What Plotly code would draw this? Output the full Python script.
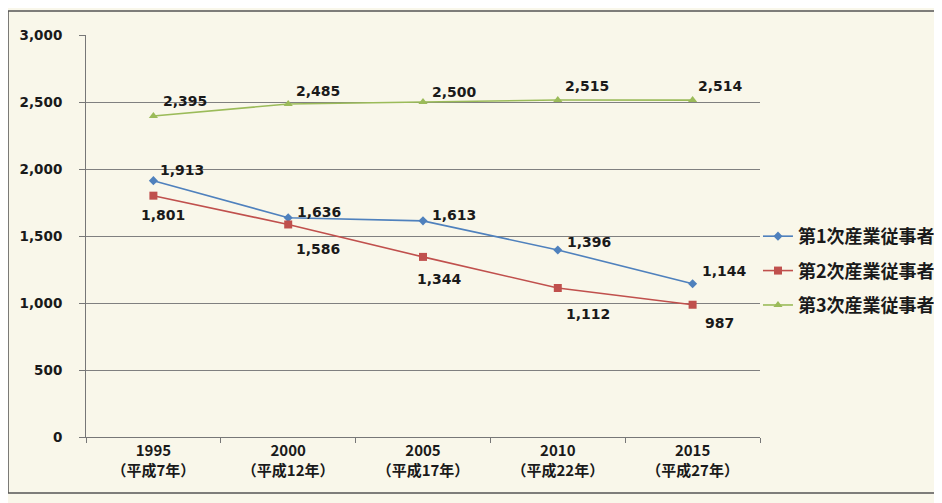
import plotly.graph_objects as go

categories = ["1995<br>（平成7年）", "2000<br>（平成12年）", "2005<br>（平成17年）",
              "2010<br>（平成22年）", "2015<br>（平成27年）"]
primary = [1913, 1636, 1613, 1396, 1144]
secondary = [1801, 1586, 1344, 1112, 987]
tertiary = [2395, 2485, 2500, 2515, 2514]
names = ["第1次産業従事者", "第2次産業従事者", "第3次産業従事者"]
y_ticks = [0, 500, 1000, 1500, 2000, 2500, 3000]

colors = ["#4F81BD", "#C0504D", "#9BBB59"]
symbols = ["diamond", "square", "triangle-up"]
msizes = [7, 8, 8]
# label offsets (pixels) per point
shifts = [
    [(29, 11), (31, 6), (31, 6), (31, 8), (32, 13)],
    [(10, -19), (30, -25), (16, -22), (30, -26), (27, -18)],
    [(32, 15), (30, 13), (31, 10), (29, 14), (28, 14)],
]

num_font = dict(family="DejaVu Sans, Noto Sans CJK JP", size=14, color="#1a1a1a", weight="bold")
ytick_font = dict(family="DejaVu Sans, Noto Sans CJK JP", size=13.5, color="#1a1a1a", weight="bold")
cjk_font = dict(family="Noto Sans CJK JP, DejaVu Sans", size=15, color="#1a1a1a", weight="bold")

fig = go.Figure()
series = [primary, secondary, tertiary]
for i, vals in enumerate(series):
    fig.add_trace(go.Scatter(
        x=categories, y=vals, name=names[i], mode="lines+markers",
        line=dict(color=colors[i], width=1.6),
        marker=dict(symbol=symbols[i], size=msizes[i], color=colors[i]),
        legendgroup=str(i),
    ))
    for j, v in enumerate(vals):
        dx, dy = shifts[i][j]
        fig.add_annotation(x=categories[j], y=v, text=f"{v:,}", showarrow=False,
                           xshift=dx, yshift=dy, font=num_font)

fig.add_shape(type="rect", xref="paper", yref="paper",
              x0=-0.1157, x1=1.28, y0=-0.139, y1=1.0597,
              line=dict(color="#555555", width=1.5), layer="below")

fig.update_layout(
    width=934, height=495,
    margin=dict(l=78, r=182, t=27, b=66, autoexpand=False),
    paper_bgcolor="#f9f7ea", plot_bgcolor="#f9f7ea",
    showlegend=True,
    legend=dict(x=0.997, y=0.413, xanchor="left", yanchor="middle",
                bgcolor="rgba(0,0,0,0)", tracegroupgap=8,
                font=dict(family="Noto Sans CJK JP, DejaVu Sans", size=18,
                          color="#1a1a1a", weight="bold")),
    xaxis=dict(type="category", range=[-0.5, 4.5], tickson="boundaries",
               ticks="outside", ticklen=5, tickcolor="#777777",
               showline=True, linecolor="#777777", linewidth=1,
               showgrid=False, tickfont=cjk_font, fixedrange=True),
    yaxis=dict(range=[0, 3000], tickvals=y_ticks, tickformat=",",
               ticks="outside", ticklen=6, tickcolor="#777777",
               showline=True, linecolor="#777777", linewidth=1,
               showgrid=True, gridcolor="#808080", gridwidth=1,
               zeroline=False, tickfont=ytick_font, ticklabelstandoff=14),
)

fig.write_html("out.html")
